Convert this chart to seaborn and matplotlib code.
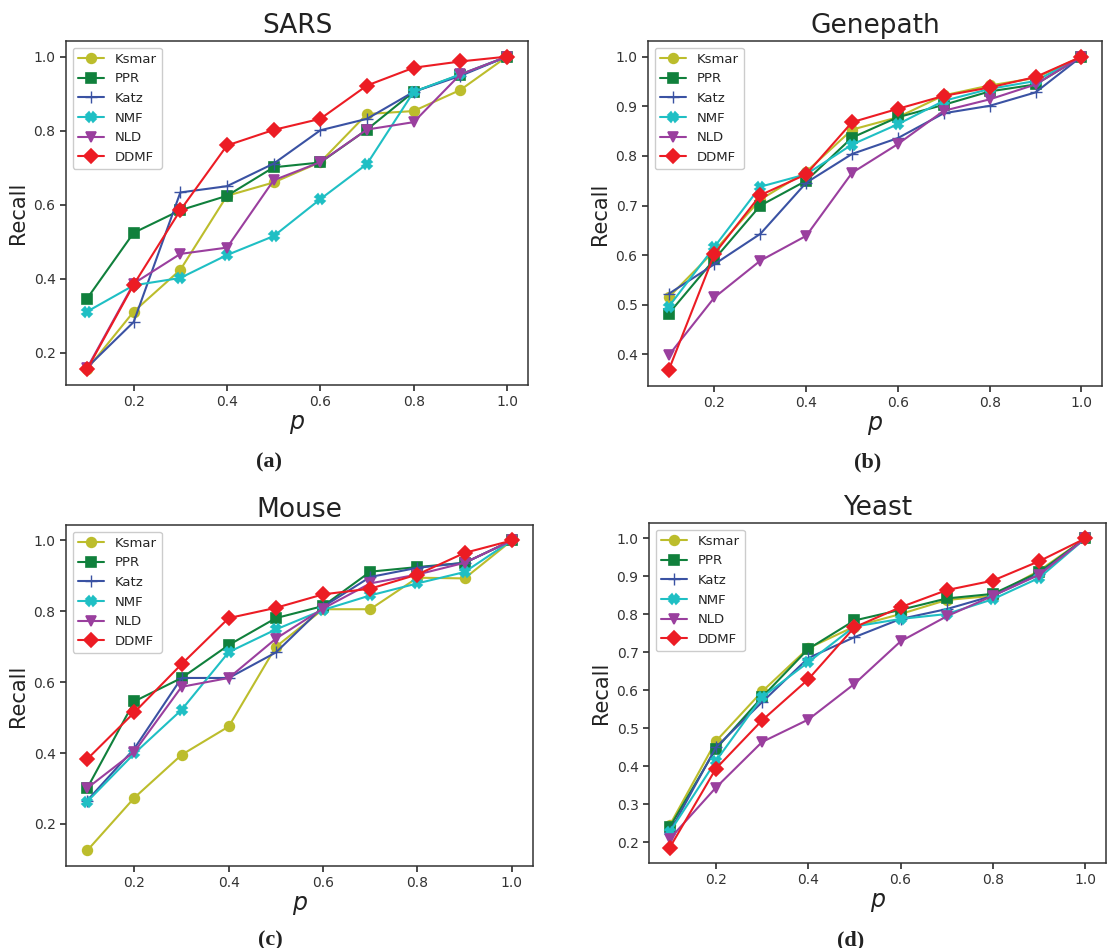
import numpy as np
import pandas as pd
import matplotlib
matplotlib.use("Agg")
import matplotlib.pyplot as plt
import seaborn as sns

# Sampling ratio p
p = [0.1, 0.2, 0.3, 0.4, 0.5, 0.6, 0.7, 0.8, 0.9, 1.0]
methods = ["Ksmar", "PPR", "Katz", "NMF", "NLD", "DDMF"]

# Recall per dataset and method
sars_ksmar = [0.155, 0.311, 0.424, 0.624, 0.660, 0.715, 0.845, 0.853, 0.910, 1.0]
sars_ppr   = [0.346, 0.524, 0.585, 0.624, 0.701, 0.714, 0.803, 0.905, 0.951, 1.0]
sars_katz  = [0.160, 0.283, 0.633, 0.650, 0.711, 0.801, 0.832, 0.905, 0.948, 1.0]
sars_nmf   = [0.311, 0.382, 0.402, 0.464, 0.515, 0.615, 0.710, 0.905, 0.952, 1.0]
sars_nld   = [0.158, 0.387, 0.467, 0.484, 0.666, 0.715, 0.803, 0.823, 0.952, 1.0]
sars_ddmf  = [0.155, 0.384, 0.585, 0.760, 0.802, 0.832, 0.922, 0.970, 0.987, 1.0]

gene_ksmar = [0.515, 0.609, 0.712, 0.768, 0.853, 0.878, 0.922, 0.942, 0.957, 1.0]
gene_ppr   = [0.482, 0.592, 0.700, 0.750, 0.837, 0.878, 0.903, 0.930, 0.944, 1.0]
gene_katz  = [0.522, 0.582, 0.643, 0.746, 0.804, 0.836, 0.886, 0.901, 0.928, 1.0]
gene_nmf   = [0.496, 0.617, 0.738, 0.763, 0.823, 0.864, 0.911, 0.935, 0.951, 1.0]
gene_nld   = [0.398, 0.515, 0.589, 0.639, 0.766, 0.824, 0.891, 0.914, 0.944, 1.0]
gene_ddmf  = [0.368, 0.603, 0.721, 0.763, 0.868, 0.895, 0.921, 0.938, 0.959, 1.0]

mouse_ksmar = [0.125, 0.274, 0.395, 0.475, 0.700, 0.806, 0.806, 0.895, 0.893, 1.0]
mouse_ppr   = [0.301, 0.546, 0.612, 0.705, 0.781, 0.815, 0.912, 0.925, 0.937, 1.0]
mouse_katz  = [0.266, 0.413, 0.612, 0.612, 0.684, 0.813, 0.897, 0.923, 0.937, 1.0]
mouse_nmf   = [0.263, 0.399, 0.522, 0.685, 0.749, 0.804, 0.845, 0.879, 0.911, 1.0]
mouse_nld   = [0.301, 0.404, 0.587, 0.612, 0.723, 0.808, 0.879, 0.904, 0.937, 1.0]
mouse_ddmf  = [0.383, 0.515, 0.651, 0.781, 0.810, 0.848, 0.864, 0.904, 0.965, 1.0]

yeast_ksmar = [0.245, 0.466, 0.597, 0.711, 0.768, 0.801, 0.838, 0.849, 0.915, 1.0]
yeast_ppr   = [0.240, 0.446, 0.582, 0.709, 0.784, 0.812, 0.842, 0.854, 0.911, 1.0]
yeast_katz  = [0.227, 0.450, 0.569, 0.685, 0.740, 0.788, 0.814, 0.849, 0.906, 1.0]
yeast_nmf   = [0.227, 0.414, 0.582, 0.674, 0.768, 0.788, 0.801, 0.840, 0.896, 1.0]
yeast_nld   = [0.209, 0.344, 0.464, 0.523, 0.617, 0.729, 0.795, 0.849, 0.904, 1.0]
yeast_ddmf  = [0.186, 0.394, 0.521, 0.629, 0.766, 0.819, 0.864, 0.889, 0.940, 1.0]

datasets = [
    ("SARS", "(a)", [sars_ksmar, sars_ppr, sars_katz, sars_nmf, sars_nld, sars_ddmf],
     [0.2, 0.4, 0.6, 0.8, 1.0]),
    ("Genepath", "(b)", [gene_ksmar, gene_ppr, gene_katz, gene_nmf, gene_nld, gene_ddmf],
     [0.4, 0.5, 0.6, 0.7, 0.8, 0.9, 1.0]),
    ("Mouse", "(c)", [mouse_ksmar, mouse_ppr, mouse_katz, mouse_nmf, mouse_nld, mouse_ddmf],
     [0.2, 0.4, 0.6, 0.8, 1.0]),
    ("Yeast", "(d)", [yeast_ksmar, yeast_ppr, yeast_katz, yeast_nmf, yeast_nld, yeast_ddmf],
     [0.2, 0.3, 0.4, 0.5, 0.6, 0.7, 0.8, 0.9, 1.0]),
]

colors = {"Ksmar": "#bcbd2c", "PPR": "#10803c", "Katz": "#3a52a3",
          "NMF": "#1fbfc4", "NLD": "#9a3f9e", "DDMF": "#ec1c24"}
markers = {"Ksmar": "o", "PPR": "s", "Katz": "+", "NMF": "X", "NLD": "v", "DDMF": "D"}

sns.set_theme(style="ticks")
plt.rcParams["font.family"] = ["DejaVu Sans"]

W, H = 1111, 948
fig = plt.figure(figsize=(W / 100, H / 100), dpi=100)

# axes boxes in pixels: left, top, right, bottom
boxes = [(66, 41, 528, 385), (648, 41, 1102, 386),
         (66, 525, 533, 866), (649, 523, 1106, 863)]
captions_xy = [(269, 462), (868, 462), (270, 940), (851, 940)]

for (title, cap, series, yticks), (l, t, r, b), (cx, cy) in zip(datasets, boxes, captions_xy):
    ax = fig.add_axes([l / W, 1 - b / H, (r - l) / W, (b - t) / H])
    for name, vals in zip(methods, series):
        df = pd.DataFrame({"p": p, "Recall": vals})
        c = colors[name]
        is_plus = name == "Katz"
        sns.lineplot(data=df, x="p", y="Recall", ax=ax, color=c, label=name,
                     marker=markers[name], markersize=8 if is_plus else 7,
                     markeredgecolor=c, markerfacecolor=c,
                     markeredgewidth=1.0 if is_plus else 1.2, linewidth=1.5)
    ax.set_title(title, fontsize=19, color="#222222")
    ax.set_xlabel("$p$", fontsize=17, color="#222222", labelpad=2)
    ax.set_ylabel("Recall", fontsize=15, color="#222222")
    ax.set_xticks([0.2, 0.4, 0.6, 0.8, 1.0])
    ax.set_yticks(yticks)
    ax.tick_params(labelsize=10, colors="#333333", length=4)
    for s in ax.spines.values():
        s.set_color("#333333")
        s.set_linewidth(1.1)
    ax.legend(loc="upper left", fontsize=9.5, frameon=True, framealpha=1,
              edgecolor="#cccccc", handlelength=2.0)
    fig.text(cx / W, 1 - cy / H, cap, ha="center", va="center",
             fontsize=16, fontweight="bold", family="Liberation Serif", color="#222222")

fig.savefig("out.png", dpi=100)
